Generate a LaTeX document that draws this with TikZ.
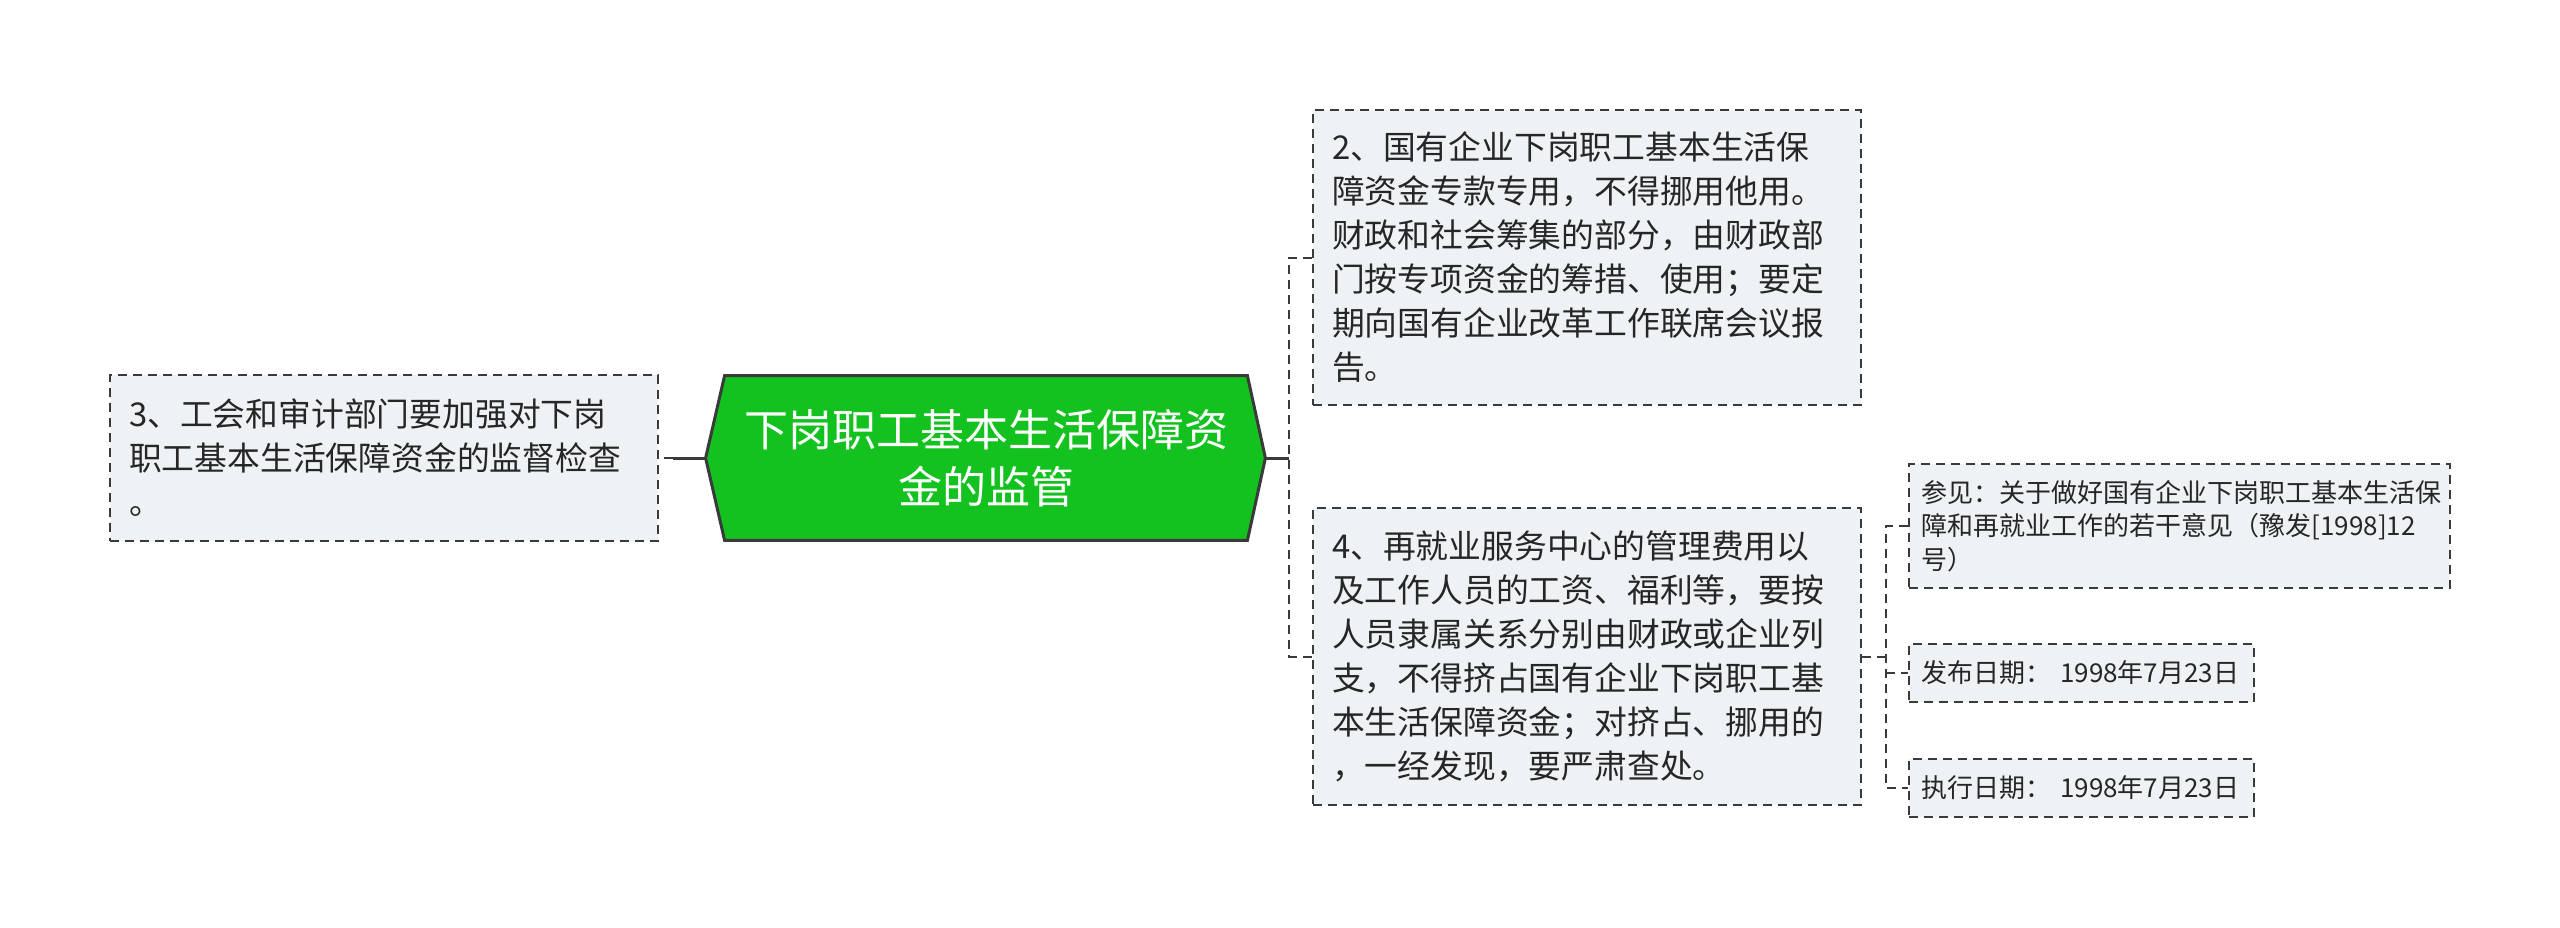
\documentclass[tikz,border=0pt]{standalone}
\usepackage{fontspec}
\setmainfont{Noto Sans CJK SC}
\usepackage{tikz}
\usetikzlibrary{backgrounds}
\definecolor{topicgreen}{HTML}{13C11F}
\definecolor{boxfill}{HTML}{EFF2F5}
\definecolor{linegray}{HTML}{3A3A3A}
\definecolor{textgray}{HTML}{262626}

\begin{document}
\begin{tikzpicture}[x=0.5pt,y=-0.5pt,
    itembox/.style={draw=linegray,dash pattern=on 4.5pt off 3pt,line width=1pt,
      fill=boxfill,text=textgray,align=left,inner sep=0pt,
      font=\fontsize{16.4}{22}\selectfont},
    notebox/.style={itembox,font=\fontsize{13}{16.8}\selectfont},
    trunk/.style={draw=linegray,line width=1.5pt},
    branch/.style={draw=linegray,dash pattern=on 4.5pt off 3pt,line width=1pt}]
  \useasboundingbox (0,0) rectangle (2560,927);

  \path (986,458) node[minimum width=261pt,minimum height=82pt,inner sep=0pt,
      text=white,align=center,font=\fontsize{22}{28.5}\selectfont] (main)
    {下岗职工基本生活保障资\\金的监管};
  \coordinate (mainL) at ([xshift=-9.5pt]main.west);
  \coordinate (mainR) at ([xshift=9pt]main.east);
  \begin{scope}[on background layer]
    \draw[fill=topicgreen,draw=linegray,line width=1.5pt] (main.north west) -- (main.north east)
      -- (mainR) -- (main.south east) -- (main.south west) -- (mainL) -- cycle;
  \end{scope}

  \path (384,458) node[itembox,minimum width=274pt,minimum height=83pt,text width=255pt] (left)
    {3、工会和审计部门要加强对下岗\\职工基本生活保障资金的监督检查\\。};

  \path (1587,257.5) node[itembox,minimum width=274pt,minimum height=147.5pt,text width=255pt] (box1)
    {2、国有企业下岗职工基本生活保\\障资金专款专用，不得挪用他用。\\财政和社会筹集的部分，由财政部\\门按专项资金的筹措、使用；要定\\期向国有企业改革工作联席会议报\\告。};

  \path (1587,656.5) node[itembox,minimum width=274pt,minimum height=148.5pt,text width=255pt] (box2)
    {4、再就业服务中心的管理费用以\\及工作人员的工资、福利等，要按\\人员隶属关系分别由财政或企业列\\支，不得挤占国有企业下岗职工基\\本生活保障资金；对挤占、挪用的\\，一经发现，要严肃查处。};

  \path (2179.5,526) node[notebox,minimum width=270.5pt,minimum height=62pt,text width=258pt] (ref)
    {参见：关于做好国有企业下岗职工基本生活保\\障和再就业工作的若干意见（豫发[1998]12\\号）};
  \path (2081.5,673) node[notebox,minimum width=172.5pt,minimum height=29pt,text width=160pt] (issued)
    {发布日期： 1998年7月23日};
  \path (2081.5,788) node[notebox,minimum width=172.5pt,minimum height=29pt,text width=160pt] (effective)
    {执行日期： 1998年7月23日};

  \draw[trunk] (mainL) -- ++(-33,0) coordinate (lj);
  \draw[branch] (lj) -- (left.east);
  \draw[trunk] (mainR) -- ++(24,0) coordinate (rj);
  \draw[branch] (box1.west) -| (rj) |- (box2.west);
  \draw[branch] (box2.east) -- ++(24,0) coordinate (sj);
  \draw[branch] (ref.west) -| (sj) |- (effective.west);
  \draw[branch] (sj |- issued.west) -- (issued.west);
\end{tikzpicture}
\end{document}
